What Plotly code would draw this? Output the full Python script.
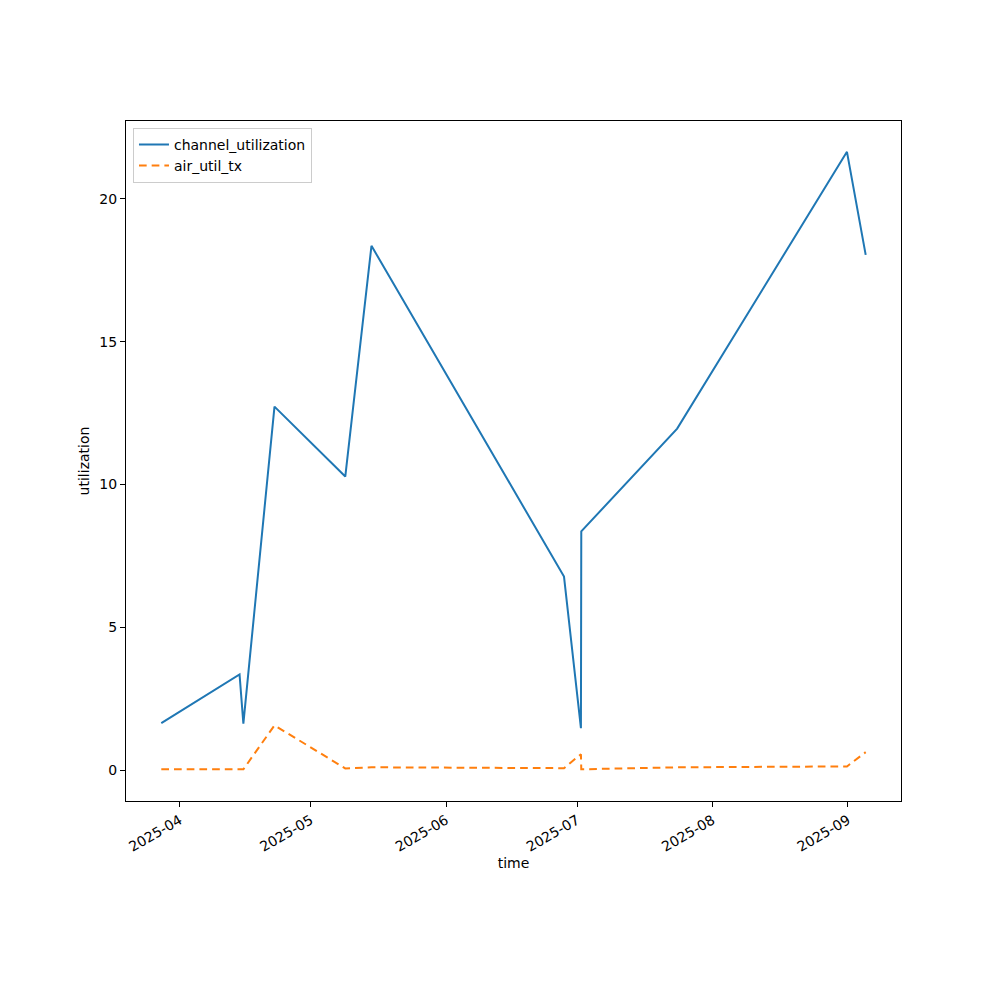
import plotly.graph_objects as go

times = [
    "2025-03-27 19:00", "2025-04-14 17:00", "2025-04-15 14:00", "2025-04-22 17:00",
    "2025-05-08 22:00", "2025-05-14 22:00", "2025-06-28 00:00", "2025-07-01 21:00",
    "2025-07-01 23:00", "2025-07-23 22:00", "2025-08-31 19:00", "2025-09-05 02:00",
]
channel_utilization = [1.65, 3.35, 1.63, 12.73, 10.28, 18.36, 6.78, 1.47, 8.36, 11.96, 21.65, 18.04]
air_util_tx = [0.03, 0.03, 0.03, 1.57, 0.06, 0.10, 0.07, 0.56, 0.03, 0.10, 0.13, 0.63]

font = dict(family="DejaVu Sans", size=14, color="black")

fig = go.Figure()
fig.add_trace(go.Scatter(x=times, y=channel_utilization, mode="lines", name="channel_utilization",
                         line=dict(color="#1f77b4", width=2)))
fig.add_trace(go.Scatter(x=times, y=air_util_tx, mode="lines", name="air_util_tx",
                         line=dict(color="#ff7f0e", width=2, dash="7.7px,5px")))

axis_common = dict(showline=True, linecolor="black", linewidth=1, mirror=True,
                   ticks="outside", ticklen=5, tickcolor="black", showgrid=False,
                   zeroline=False, tickfont=font)

fig.update_layout(
    width=1000, height=1000,
    margin=dict(l=118, r=107, t=113, b=207),
    paper_bgcolor="white", plot_bgcolor="white",
    font=font,
    showlegend=True,
    legend=dict(x=0.009, y=0.99, xanchor="left", yanchor="top",
                bordercolor="#cccccc", borderwidth=1, bgcolor="rgba(255,255,255,0.8)",
                font=font, tracegroupgap=0),
    xaxis=dict(axis_common, type="date", range=["2025-03-19 17:00", "2025-09-13 04:00"],
               dtick="M1", tick0="2025-01-01", tickformat="%Y-%m", tickangle=-30,
               title=dict(text="time", font=font, standoff=4)),
    yaxis=dict(axis_common, range=[-1.08, 22.73], dtick=5, tick0=0,
               title=dict(text="utilization", font=font, standoff=6)),
)

fig.write_html("out.html")
